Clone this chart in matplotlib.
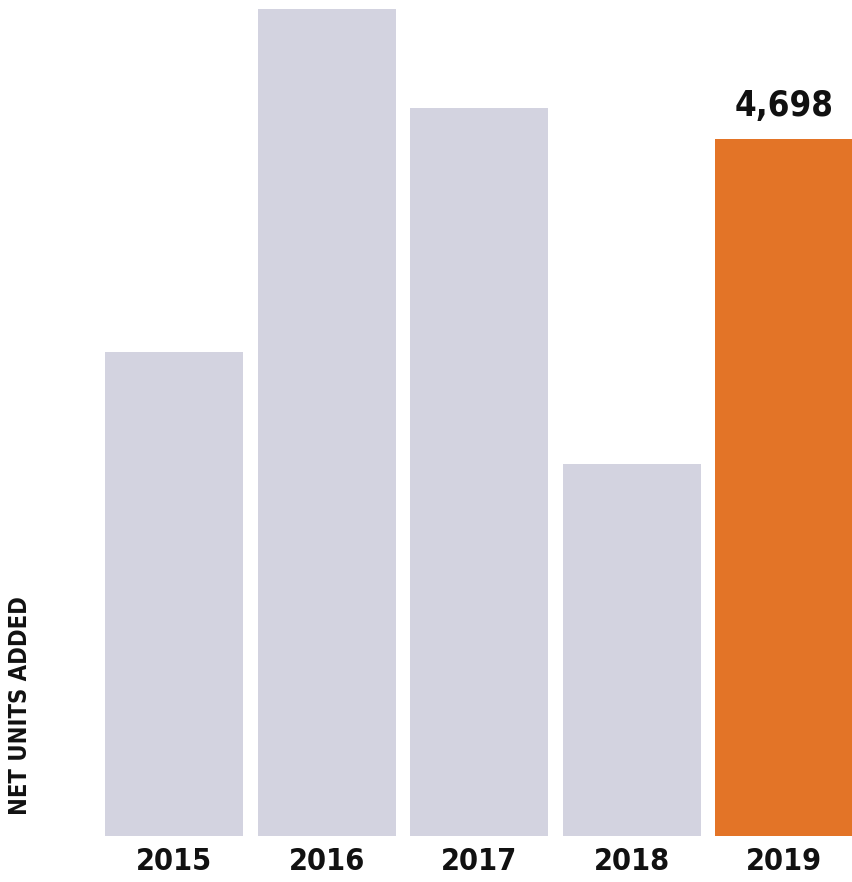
import matplotlib
matplotlib.use("Agg")
import matplotlib.pyplot as plt
from matplotlib import font_manager

years = ["2015", "2016", "2017", "2018", "2019"]
units = [3262, 5574, 4907, 2507, 4698]
highlight = "2019"

# condensed bold face, closest to the original's narrow lettering
fp = dict(family="DejaVu Sans", stretch="condensed", weight="bold")
names = sorted({(f.name, f.stretch) for f in font_manager.fontManager.ttflist})

fig = plt.figure(figsize=(8.53, 8.82), dpi=100)
ax = fig.add_axes([0.115, 0.052, 0.885, 0.948])

colors = ["#E37427" if y == highlight else "#D3D3E0" for y in years]
x = list(range(len(years)))
ax.bar(x, units, width=0.905, color=colors)

ax.set_xlim(-0.5, 4.45)
ax.set_ylim(0, 5635)

i = years.index(highlight)
ax.text(i + 0.32, units[i] + 110, "{:,}".format(units[i]), ha="right", va="bottom",
        fontsize=25, color="#111111", **fp)

ax.set_xticks(x)
ax.set_xticklabels(years, fontsize=22, color="#111111", **fp)
ax.tick_params(axis="x", length=0, pad=8)
ax.set_yticks([])
for s in ax.spines.values():
    s.set_visible(False)

fig.text(0.023, 0.20, "NET UNITS ADDED", rotation=90, ha="center", va="center",
         fontsize=17, color="#111111", **fp)

fig.savefig("out.png", dpi=100)
print(names)
